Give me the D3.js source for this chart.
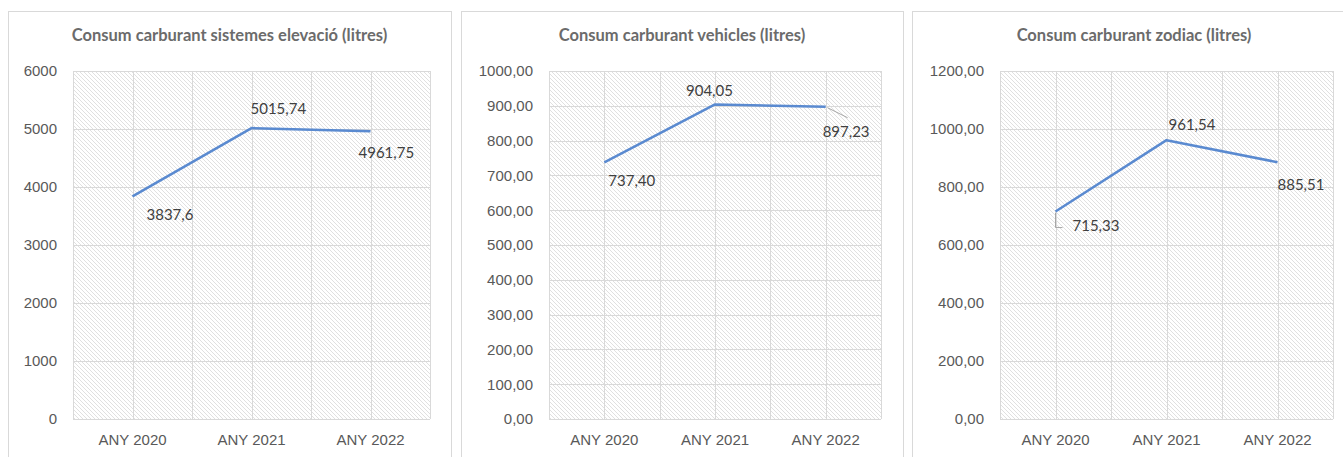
<!DOCTYPE html>
<html>
<head>
<meta charset="utf-8">
<script src="https://cdnjs.cloudflare.com/ajax/libs/d3/7.8.5/d3.min.js"></script>
<style>
    body { margin: 0; background: #ffffff; }
    svg { display: block; font-family: Lato, "Open Sans", sans-serif; }
</style>
</head>
<body>
<svg id="charts" width="1343" height="457"></svg>
<script>
// Data
var categories = ["ANY 2020", "ANY 2021", "ANY 2022"];

var elevacioValues = [3837.6, 5015.74, 4961.75];
var vehiclesValues = [737.40, 904.05, 897.23];
var zodiacValues = [715.33, 961.54, 885.51];

var elevacioTicks = [0, 1000, 2000, 3000, 4000, 5000, 6000];
var vehiclesTicks = [0, 100, 200, 300, 400, 500, 600, 700, 800, 900, 1000];
var zodiacTicks = [0, 200, 400, 600, 800, 1000, 1200];

var titles = [
    "Consum carburant sistemes elevació (litres)",
    "Consum carburant vehicles (litres)",
    "Consum carburant zodiac (litres)"
];

var svg = d3.select("#charts");

// Diagonal hatch used as the plot area fill
var defs = svg.append("defs");
var pattern = defs.append("pattern")
    .attr("id", "hatch")
    .attr("patternUnits", "userSpaceOnUse")
    .attr("width", 4)
    .attr("height", 4);
pattern.append("rect").attr("width", 4).attr("height", 4).attr("fill", "#ffffff");
pattern.append("path")
    .attr("d", "M-1,-1 L5,5 M-1,3 L1,5 M3,-1 L5,1")
    .attr("stroke", "#e0e0e0")
    .attr("stroke-width", 1);

// Decimal comma formats
var commaFixed2 = function (v) { return d3.format(".2f")(v).replace(".", ","); };
var commaGeneral = function (v) { return String(+v.toFixed(2)).replace(".", ","); };

function generateLineChart(opts) {
    var g = svg.append("g");

    // Panel frame
    g.append("rect")
        .attr("x", opts.box[0] + 0.5)
        .attr("y", 11.5)
        .attr("width", opts.box[1] - opts.box[0])
        .attr("height", 500)
        .attr("fill", "#ffffff")
        .attr("stroke", "#d9d9d9");

    // Title
    g.append("text")
        .attr("x", (opts.box[0] + opts.box[1]) / 2)
        .attr("y", 41)
        .attr("text-anchor", "middle")
        .attr("font-size", "16.5px")
        .attr("font-weight", "bold")
        .attr("fill", "#6b6b6b")
        .text(opts.title);

    var xScale = d3.scaleBand().domain(categories).range([opts.left, opts.right]);
    var yScale = d3.scaleLinear().domain([0, d3.max(opts.ticks)]).range([419, 71]);

    // Plot area with hatch
    g.append("rect")
        .attr("x", opts.left)
        .attr("y", 71)
        .attr("width", opts.right - opts.left)
        .attr("height", 348)
        .attr("fill", "url(#hatch)");

    // Horizontal gridlines
    g.selectAll(".hgrid")
        .data(opts.ticks)
        .enter().append("line")
        .attr("class", "hgrid")
        .attr("x1", opts.left)
        .attr("x2", opts.right)
        .attr("y1", d => Math.round(yScale(d)) + 0.5)
        .attr("y2", d => Math.round(yScale(d)) + 0.5)
        .attr("stroke", "#d9d9d9");

    // Vertical gridlines at band edges and band centres
    var vlines = [];
    categories.forEach(function (c) {
        vlines.push(xScale(c));
        vlines.push(xScale(c) + xScale.bandwidth() / 2);
    });
    vlines.push(opts.right);
    g.selectAll(".vgrid")
        .data(vlines)
        .enter().append("line")
        .attr("class", "vgrid")
        .attr("x1", d => Math.round(d) + 0.5)
        .attr("x2", d => Math.round(d) + 0.5)
        .attr("y1", 71)
        .attr("y2", 419)
        .attr("stroke", "#d9d9d9");

    // Y axis labels
    var yAxis = d3.axisLeft(yScale)
        .tickValues(opts.ticks)
        .tickSize(0)
        .tickPadding(16)
        .tickFormat(opts.tickFormat);
    var yg = g.append("g")
        .attr("transform", "translate(" + opts.left + ",0)")
        .call(yAxis);
    yg.select(".domain").remove();
    yg.selectAll("text")
        .attr("font-family", null)
        .attr("font-size", "15px")
        .attr("fill", "#595959");

    // X axis labels
    var xAxis = d3.axisBottom(xScale).tickSize(0).tickPadding(15);
    var xg = g.append("g")
        .attr("transform", "translate(0,419)")
        .call(xAxis);
    xg.select(".domain").remove();
    xg.selectAll("text")
        .attr("font-family", null)
        .attr("font-size", "15px")
        .attr("fill", "#595959");

    var px = d => xScale(d) + xScale.bandwidth() / 2;

    // Series line
    var line = d3.line()
        .x((d, i) => px(categories[i]))
        .y(d => yScale(d));
    g.append("path")
        .datum(opts.values)
        .attr("d", line)
        .attr("fill", "none")
        .attr("stroke", "#5a8ad0")
        .attr("stroke-width", 2.5)
        .attr("stroke-linejoin", "round");

    // Leader lines
    opts.values.forEach(function (v, i) {
        var lead = opts.leaders[i];
        if (!lead) return;
        var x0 = px(categories[i]), y0 = yScale(v);
        var pts = lead.map(p => [x0 + p[0], y0 + p[1]]);
        g.append("path")
            .attr("d", d3.line()(pts))
            .attr("fill", "none")
            .attr("stroke", "#a6a6a6")
            .attr("stroke-width", 1);
    });

    // Data labels
    g.selectAll(".dlabel")
        .data(opts.values)
        .enter().append("text")
        .attr("class", "dlabel")
        .attr("x", (d, i) => px(categories[i]) + opts.labelOffsets[i][0])
        .attr("y", (d, i) => yScale(d) + opts.labelOffsets[i][1])
        .attr("dy", "0.35em")
        .attr("font-size", "15px")
        .attr("fill", "#404040")
        .text(d => opts.labelFormat(d));
}

generateLineChart({
    box: [8, 451],
    left: 73, right: 430,
    title: titles[0],
    values: elevacioValues,
    ticks: elevacioTicks,
    tickFormat: d3.format("d"),
    labelFormat: commaGeneral,
    labelOffsets: [[14, 18], [-1, -19], [-12, 22]],
    leaders: [null, null, null]
});

generateLineChart({
    box: [461, 903],
    left: 549, right: 881,
    title: titles[1],
    values: vehiclesValues,
    ticks: vehiclesTicks,
    tickFormat: commaFixed2,
    labelFormat: commaFixed2,
    labelOffsets: [[4, 18], [-29, -14], [-3, 25]],
    leaders: [null, null, [[2, 1], [22, 11]]]
});

generateLineChart({
    box: [912, 1356],
    left: 1000, right: 1333,
    title: titles[2],
    values: zodiacValues,
    ticks: zodiacTicks,
    tickFormat: commaFixed2,
    labelFormat: commaFixed2,
    labelOffsets: [[17, 14], [2, -15], [0, 23]],
    leaders: [[[0, 1], [0, 16], [7, 16]], null, null]
});
</script>
</body>
</html>
